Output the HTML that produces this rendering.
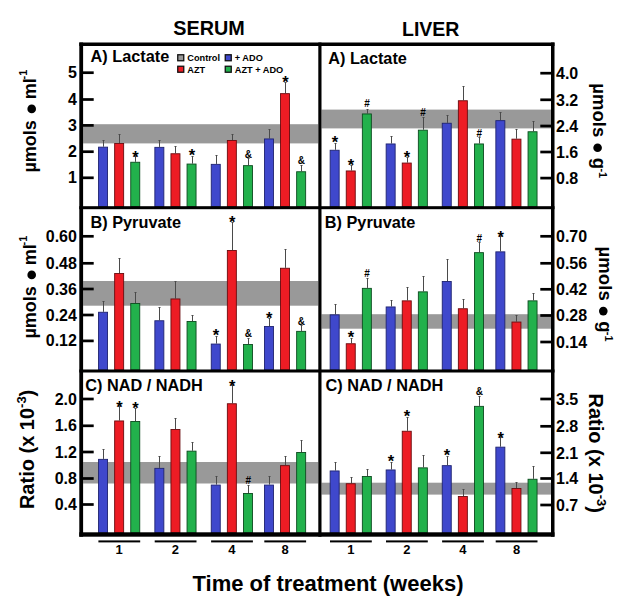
<!DOCTYPE html><html><head><meta charset="utf-8"><style>html,body{margin:0;padding:0;background:#fff;width:626px;height:604px;overflow:hidden}svg{display:block}text{font-family:"Liberation Sans",sans-serif}</style></head><body>
<svg width="626" height="604" viewBox="0 0 626 604">
<rect x="0" y="0" width="626" height="604" fill="#fff"/>
<rect x="83.1" y="124.2" width="235.20000000000002" height="19.2" fill="#999999"/>
<line x1="103.50" y1="146.7" x2="103.50" y2="140.8" stroke="#4a4a4a" stroke-width="1"/>
<line x1="102.50" y1="140.5" x2="104.50" y2="140.5" stroke="#4a4a4a" stroke-width="1"/>
<rect x="98.55" y="147.15" width="9.00" height="59.50" fill="#3f48cc" stroke="#1e2370" stroke-width="0.9"/>
<line x1="119.50" y1="143.0" x2="119.50" y2="134.2" stroke="#4a4a4a" stroke-width="1"/>
<line x1="118.50" y1="134.5" x2="120.50" y2="134.5" stroke="#4a4a4a" stroke-width="1"/>
<rect x="114.65" y="143.45" width="9.00" height="63.20" fill="#ed1c24" stroke="#6a0a0e" stroke-width="0.9"/>
<line x1="135.50" y1="161.8" x2="135.50" y2="156.7" stroke="#4a4a4a" stroke-width="1"/>
<line x1="134.50" y1="156.5" x2="136.50" y2="156.5" stroke="#4a4a4a" stroke-width="1"/>
<rect x="130.75" y="162.25" width="9.00" height="44.40" fill="#22b14c" stroke="#0c4a1e" stroke-width="0.9"/>
<text x="135.55" y="162.6" font-size="16.5" font-weight="bold" text-anchor="middle" fill="#000">*</text>
<line x1="159.50" y1="146.9" x2="159.50" y2="140.0" stroke="#4a4a4a" stroke-width="1"/>
<line x1="158.50" y1="140.5" x2="160.50" y2="140.5" stroke="#4a4a4a" stroke-width="1"/>
<rect x="154.85" y="147.35" width="9.00" height="59.30" fill="#3f48cc" stroke="#1e2370" stroke-width="0.9"/>
<line x1="175.50" y1="153.3" x2="175.50" y2="146.7" stroke="#4a4a4a" stroke-width="1"/>
<line x1="174.50" y1="146.5" x2="176.50" y2="146.5" stroke="#4a4a4a" stroke-width="1"/>
<rect x="170.95" y="153.75" width="9.00" height="52.90" fill="#ed1c24" stroke="#6a0a0e" stroke-width="0.9"/>
<line x1="192.50" y1="163.6" x2="192.50" y2="156.0" stroke="#4a4a4a" stroke-width="1"/>
<line x1="191.50" y1="156.5" x2="193.50" y2="156.5" stroke="#4a4a4a" stroke-width="1"/>
<rect x="187.05" y="164.05" width="9.00" height="42.60" fill="#22b14c" stroke="#0c4a1e" stroke-width="0.9"/>
<text x="191.85" y="161.3" font-size="16.5" font-weight="bold" text-anchor="middle" fill="#000">*</text>
<line x1="216.50" y1="163.9" x2="216.50" y2="155.4" stroke="#4a4a4a" stroke-width="1"/>
<line x1="215.50" y1="155.5" x2="217.50" y2="155.5" stroke="#4a4a4a" stroke-width="1"/>
<rect x="211.25" y="164.35" width="9.00" height="42.30" fill="#3f48cc" stroke="#1e2370" stroke-width="0.9"/>
<line x1="232.50" y1="140.0" x2="232.50" y2="134.0" stroke="#4a4a4a" stroke-width="1"/>
<line x1="231.50" y1="134.5" x2="233.50" y2="134.5" stroke="#4a4a4a" stroke-width="1"/>
<rect x="227.35" y="140.45" width="9.00" height="66.20" fill="#ed1c24" stroke="#6a0a0e" stroke-width="0.9"/>
<line x1="248.50" y1="165.2" x2="248.50" y2="158.6" stroke="#4a4a4a" stroke-width="1"/>
<line x1="247.50" y1="158.5" x2="249.50" y2="158.5" stroke="#4a4a4a" stroke-width="1"/>
<rect x="243.45" y="165.65" width="9.00" height="41.00" fill="#22b14c" stroke="#0c4a1e" stroke-width="0.9"/>
<text x="248.25" y="158.4" font-size="10" text-anchor="middle" font-weight="bold" fill="#000">&amp;</text>
<line x1="269.50" y1="138.5" x2="269.50" y2="129.7" stroke="#4a4a4a" stroke-width="1"/>
<line x1="268.50" y1="129.5" x2="270.50" y2="129.5" stroke="#4a4a4a" stroke-width="1"/>
<rect x="264.45" y="138.95" width="9.00" height="67.70" fill="#3f48cc" stroke="#1e2370" stroke-width="0.9"/>
<line x1="285.50" y1="93.2" x2="285.50" y2="82.6" stroke="#4a4a4a" stroke-width="1"/>
<line x1="284.50" y1="82.5" x2="286.50" y2="82.5" stroke="#4a4a4a" stroke-width="1"/>
<rect x="280.55" y="93.65" width="9.00" height="113.00" fill="#ed1c24" stroke="#6a0a0e" stroke-width="0.9"/>
<text x="285.35" y="88.3" font-size="16.5" font-weight="bold" text-anchor="middle" fill="#000">*</text>
<line x1="301.50" y1="171.3" x2="301.50" y2="165.2" stroke="#4a4a4a" stroke-width="1"/>
<line x1="300.50" y1="165.5" x2="302.50" y2="165.5" stroke="#4a4a4a" stroke-width="1"/>
<rect x="296.65" y="171.75" width="9.00" height="34.90" fill="#22b14c" stroke="#0c4a1e" stroke-width="0.9"/>
<text x="301.45" y="163.7" font-size="10" text-anchor="middle" font-weight="bold" fill="#000">&amp;</text>
<rect x="321.5" y="109.6" width="229.5" height="18.8" fill="#999999"/>
<line x1="335.50" y1="149.8" x2="335.50" y2="143.2" stroke="#4a4a4a" stroke-width="1"/>
<line x1="334.50" y1="143.5" x2="336.50" y2="143.5" stroke="#4a4a4a" stroke-width="1"/>
<rect x="330.15" y="150.25" width="9.00" height="56.40" fill="#3f48cc" stroke="#1e2370" stroke-width="0.9"/>
<text x="334.95" y="148.0" font-size="16.5" font-weight="bold" text-anchor="middle" fill="#000">*</text>
<line x1="351.50" y1="170.5" x2="351.50" y2="165.2" stroke="#4a4a4a" stroke-width="1"/>
<line x1="350.50" y1="165.5" x2="352.50" y2="165.5" stroke="#4a4a4a" stroke-width="1"/>
<rect x="346.25" y="170.95" width="9.00" height="35.70" fill="#ed1c24" stroke="#6a0a0e" stroke-width="0.9"/>
<text x="351.05" y="171.1" font-size="16.5" font-weight="bold" text-anchor="middle" fill="#000">*</text>
<line x1="367.50" y1="113.5" x2="367.50" y2="109.6" stroke="#4a4a4a" stroke-width="1"/>
<line x1="366.50" y1="109.5" x2="368.50" y2="109.5" stroke="#4a4a4a" stroke-width="1"/>
<rect x="362.35" y="113.95" width="9.00" height="92.70" fill="#22b14c" stroke="#0c4a1e" stroke-width="0.9"/>
<text x="367.15" y="107.3" font-size="10" font-weight="bold" text-anchor="middle" fill="#000">#</text>
<line x1="391.50" y1="143.5" x2="391.50" y2="136.0" stroke="#4a4a4a" stroke-width="1"/>
<line x1="390.50" y1="136.5" x2="392.50" y2="136.5" stroke="#4a4a4a" stroke-width="1"/>
<rect x="386.15" y="143.95" width="9.00" height="62.70" fill="#3f48cc" stroke="#1e2370" stroke-width="0.9"/>
<line x1="407.50" y1="162.6" x2="407.50" y2="157.3" stroke="#4a4a4a" stroke-width="1"/>
<line x1="406.50" y1="157.5" x2="408.50" y2="157.5" stroke="#4a4a4a" stroke-width="1"/>
<rect x="402.25" y="163.05" width="9.00" height="43.60" fill="#ed1c24" stroke="#6a0a0e" stroke-width="0.9"/>
<text x="407.05" y="162.6" font-size="16.5" font-weight="bold" text-anchor="middle" fill="#000">*</text>
<line x1="423.50" y1="129.7" x2="423.50" y2="117.5" stroke="#4a4a4a" stroke-width="1"/>
<line x1="422.50" y1="117.5" x2="424.50" y2="117.5" stroke="#4a4a4a" stroke-width="1"/>
<rect x="418.35" y="130.15" width="9.00" height="76.50" fill="#22b14c" stroke="#0c4a1e" stroke-width="0.9"/>
<text x="423.15" y="115.6" font-size="10" font-weight="bold" text-anchor="middle" fill="#000">#</text>
<line x1="447.50" y1="122.8" x2="447.50" y2="115.4" stroke="#4a4a4a" stroke-width="1"/>
<line x1="446.50" y1="115.5" x2="448.50" y2="115.5" stroke="#4a4a4a" stroke-width="1"/>
<rect x="442.25" y="123.25" width="9.00" height="83.40" fill="#3f48cc" stroke="#1e2370" stroke-width="0.9"/>
<line x1="463.50" y1="100.3" x2="463.50" y2="86.3" stroke="#4a4a4a" stroke-width="1"/>
<line x1="462.50" y1="86.5" x2="464.50" y2="86.5" stroke="#4a4a4a" stroke-width="1"/>
<rect x="458.35" y="100.75" width="9.00" height="105.90" fill="#ed1c24" stroke="#6a0a0e" stroke-width="0.9"/>
<line x1="479.50" y1="143.5" x2="479.50" y2="137.4" stroke="#4a4a4a" stroke-width="1"/>
<line x1="478.50" y1="137.5" x2="480.50" y2="137.5" stroke="#4a4a4a" stroke-width="1"/>
<rect x="474.45" y="143.95" width="9.00" height="62.70" fill="#22b14c" stroke="#0c4a1e" stroke-width="0.9"/>
<text x="479.25" y="136.9" font-size="10" font-weight="bold" text-anchor="middle" fill="#000">#</text>
<line x1="500.50" y1="120.2" x2="500.50" y2="112.8" stroke="#4a4a4a" stroke-width="1"/>
<line x1="499.50" y1="112.5" x2="501.50" y2="112.5" stroke="#4a4a4a" stroke-width="1"/>
<rect x="495.85" y="120.65" width="9.00" height="86.00" fill="#3f48cc" stroke="#1e2370" stroke-width="0.9"/>
<line x1="516.50" y1="138.7" x2="516.50" y2="129.4" stroke="#4a4a4a" stroke-width="1"/>
<line x1="515.50" y1="129.5" x2="517.50" y2="129.5" stroke="#4a4a4a" stroke-width="1"/>
<rect x="511.95" y="139.15" width="9.00" height="67.50" fill="#ed1c24" stroke="#6a0a0e" stroke-width="0.9"/>
<line x1="533.50" y1="131.3" x2="533.50" y2="121.0" stroke="#4a4a4a" stroke-width="1"/>
<line x1="532.50" y1="121.5" x2="534.50" y2="121.5" stroke="#4a4a4a" stroke-width="1"/>
<rect x="528.05" y="131.75" width="9.00" height="74.90" fill="#22b14c" stroke="#0c4a1e" stroke-width="0.9"/>
<rect x="83.1" y="281.0" width="235.20000000000002" height="24.7" fill="#999999"/>
<line x1="103.50" y1="311.8" x2="103.50" y2="301.2" stroke="#4a4a4a" stroke-width="1"/>
<line x1="102.50" y1="301.5" x2="104.50" y2="301.5" stroke="#4a4a4a" stroke-width="1"/>
<rect x="98.55" y="312.25" width="9.00" height="57.70" fill="#3f48cc" stroke="#1e2370" stroke-width="0.9"/>
<line x1="119.50" y1="273.1" x2="119.50" y2="258.8" stroke="#4a4a4a" stroke-width="1"/>
<line x1="118.50" y1="258.5" x2="120.50" y2="258.5" stroke="#4a4a4a" stroke-width="1"/>
<rect x="114.65" y="273.55" width="9.00" height="96.40" fill="#ed1c24" stroke="#6a0a0e" stroke-width="0.9"/>
<line x1="135.50" y1="303.0" x2="135.50" y2="292.4" stroke="#4a4a4a" stroke-width="1"/>
<line x1="134.50" y1="292.5" x2="136.50" y2="292.5" stroke="#4a4a4a" stroke-width="1"/>
<rect x="130.75" y="303.45" width="9.00" height="66.50" fill="#22b14c" stroke="#0c4a1e" stroke-width="0.9"/>
<line x1="159.50" y1="320.3" x2="159.50" y2="307.2" stroke="#4a4a4a" stroke-width="1"/>
<line x1="158.50" y1="307.5" x2="160.50" y2="307.5" stroke="#4a4a4a" stroke-width="1"/>
<rect x="154.85" y="320.75" width="9.00" height="49.20" fill="#3f48cc" stroke="#1e2370" stroke-width="0.9"/>
<line x1="175.50" y1="298.5" x2="175.50" y2="281.0" stroke="#4a4a4a" stroke-width="1"/>
<line x1="174.50" y1="281.5" x2="176.50" y2="281.5" stroke="#4a4a4a" stroke-width="1"/>
<rect x="170.95" y="298.95" width="9.00" height="71.00" fill="#ed1c24" stroke="#6a0a0e" stroke-width="0.9"/>
<line x1="192.50" y1="321.0" x2="192.50" y2="315.0" stroke="#4a4a4a" stroke-width="1"/>
<line x1="191.50" y1="315.5" x2="193.50" y2="315.5" stroke="#4a4a4a" stroke-width="1"/>
<rect x="187.05" y="321.45" width="9.00" height="48.50" fill="#22b14c" stroke="#0c4a1e" stroke-width="0.9"/>
<line x1="216.50" y1="343.6" x2="216.50" y2="336.2" stroke="#4a4a4a" stroke-width="1"/>
<line x1="215.50" y1="336.5" x2="217.50" y2="336.5" stroke="#4a4a4a" stroke-width="1"/>
<rect x="211.25" y="344.05" width="9.00" height="25.90" fill="#3f48cc" stroke="#1e2370" stroke-width="0.9"/>
<text x="216.05" y="341.3" font-size="16.5" font-weight="bold" text-anchor="middle" fill="#000">*</text>
<line x1="232.50" y1="250.0" x2="232.50" y2="222.2" stroke="#4a4a4a" stroke-width="1"/>
<line x1="231.50" y1="222.5" x2="233.50" y2="222.5" stroke="#4a4a4a" stroke-width="1"/>
<rect x="227.35" y="250.45" width="9.00" height="119.50" fill="#ed1c24" stroke="#6a0a0e" stroke-width="0.9"/>
<text x="232.15" y="227.6" font-size="16.5" font-weight="bold" text-anchor="middle" fill="#000">*</text>
<line x1="248.50" y1="344.1" x2="248.50" y2="338.8" stroke="#4a4a4a" stroke-width="1"/>
<line x1="247.50" y1="338.5" x2="249.50" y2="338.5" stroke="#4a4a4a" stroke-width="1"/>
<rect x="243.45" y="344.55" width="9.00" height="25.40" fill="#22b14c" stroke="#0c4a1e" stroke-width="0.9"/>
<text x="248.25" y="337.4" font-size="10" text-anchor="middle" font-weight="bold" fill="#000">&amp;</text>
<line x1="269.50" y1="326.1" x2="269.50" y2="318.1" stroke="#4a4a4a" stroke-width="1"/>
<line x1="268.50" y1="318.5" x2="270.50" y2="318.5" stroke="#4a4a4a" stroke-width="1"/>
<rect x="264.45" y="326.55" width="9.00" height="43.40" fill="#3f48cc" stroke="#1e2370" stroke-width="0.9"/>
<text x="269.25" y="323.7" font-size="16.5" font-weight="bold" text-anchor="middle" fill="#000">*</text>
<line x1="285.50" y1="267.8" x2="285.50" y2="249.3" stroke="#4a4a4a" stroke-width="1"/>
<line x1="284.50" y1="249.5" x2="286.50" y2="249.5" stroke="#4a4a4a" stroke-width="1"/>
<rect x="280.55" y="268.25" width="9.00" height="101.70" fill="#ed1c24" stroke="#6a0a0e" stroke-width="0.9"/>
<line x1="301.50" y1="330.9" x2="301.50" y2="325.6" stroke="#4a4a4a" stroke-width="1"/>
<line x1="300.50" y1="325.5" x2="302.50" y2="325.5" stroke="#4a4a4a" stroke-width="1"/>
<rect x="296.65" y="331.35" width="9.00" height="38.60" fill="#22b14c" stroke="#0c4a1e" stroke-width="0.9"/>
<text x="301.45" y="325.0" font-size="10" text-anchor="middle" font-weight="bold" fill="#000">&amp;</text>
<rect x="321.5" y="314.2" width="229.5" height="14.5" fill="#999999"/>
<line x1="335.50" y1="314.4" x2="335.50" y2="304.9" stroke="#4a4a4a" stroke-width="1"/>
<line x1="334.50" y1="304.5" x2="336.50" y2="304.5" stroke="#4a4a4a" stroke-width="1"/>
<rect x="330.15" y="314.85" width="9.00" height="55.10" fill="#3f48cc" stroke="#1e2370" stroke-width="0.9"/>
<line x1="351.50" y1="343.3" x2="351.50" y2="338.0" stroke="#4a4a4a" stroke-width="1"/>
<line x1="350.50" y1="338.5" x2="352.50" y2="338.5" stroke="#4a4a4a" stroke-width="1"/>
<rect x="346.25" y="343.75" width="9.00" height="26.20" fill="#ed1c24" stroke="#6a0a0e" stroke-width="0.9"/>
<text x="351.05" y="342.8" font-size="16.5" font-weight="bold" text-anchor="middle" fill="#000">*</text>
<line x1="367.50" y1="287.9" x2="367.50" y2="278.4" stroke="#4a4a4a" stroke-width="1"/>
<line x1="366.50" y1="278.5" x2="368.50" y2="278.5" stroke="#4a4a4a" stroke-width="1"/>
<rect x="362.35" y="288.35" width="9.00" height="81.60" fill="#22b14c" stroke="#0c4a1e" stroke-width="0.9"/>
<text x="367.15" y="276.9" font-size="10" font-weight="bold" text-anchor="middle" fill="#000">#</text>
<line x1="391.50" y1="306.5" x2="391.50" y2="300.4" stroke="#4a4a4a" stroke-width="1"/>
<line x1="390.50" y1="300.5" x2="392.50" y2="300.5" stroke="#4a4a4a" stroke-width="1"/>
<rect x="386.15" y="306.95" width="9.00" height="63.00" fill="#3f48cc" stroke="#1e2370" stroke-width="0.9"/>
<line x1="407.50" y1="300.4" x2="407.50" y2="287.9" stroke="#4a4a4a" stroke-width="1"/>
<line x1="406.50" y1="287.5" x2="408.50" y2="287.5" stroke="#4a4a4a" stroke-width="1"/>
<rect x="402.25" y="300.85" width="9.00" height="69.10" fill="#ed1c24" stroke="#6a0a0e" stroke-width="0.9"/>
<line x1="423.50" y1="291.4" x2="423.50" y2="276.0" stroke="#4a4a4a" stroke-width="1"/>
<line x1="422.50" y1="276.5" x2="424.50" y2="276.5" stroke="#4a4a4a" stroke-width="1"/>
<rect x="418.35" y="291.85" width="9.00" height="78.10" fill="#22b14c" stroke="#0c4a1e" stroke-width="0.9"/>
<line x1="447.50" y1="281.0" x2="447.50" y2="259.9" stroke="#4a4a4a" stroke-width="1"/>
<line x1="446.50" y1="259.5" x2="448.50" y2="259.5" stroke="#4a4a4a" stroke-width="1"/>
<rect x="442.25" y="281.45" width="9.00" height="88.50" fill="#3f48cc" stroke="#1e2370" stroke-width="0.9"/>
<line x1="463.50" y1="308.3" x2="463.50" y2="299.0" stroke="#4a4a4a" stroke-width="1"/>
<line x1="462.50" y1="299.5" x2="464.50" y2="299.5" stroke="#4a4a4a" stroke-width="1"/>
<rect x="458.35" y="308.75" width="9.00" height="61.20" fill="#ed1c24" stroke="#6a0a0e" stroke-width="0.9"/>
<line x1="479.50" y1="252.2" x2="479.50" y2="242.1" stroke="#4a4a4a" stroke-width="1"/>
<line x1="478.50" y1="242.5" x2="480.50" y2="242.5" stroke="#4a4a4a" stroke-width="1"/>
<rect x="474.45" y="252.65" width="9.00" height="117.30" fill="#22b14c" stroke="#0c4a1e" stroke-width="0.9"/>
<text x="479.25" y="241.9" font-size="10" font-weight="bold" text-anchor="middle" fill="#000">#</text>
<line x1="500.50" y1="251.4" x2="500.50" y2="236.8" stroke="#4a4a4a" stroke-width="1"/>
<line x1="499.50" y1="236.5" x2="501.50" y2="236.5" stroke="#4a4a4a" stroke-width="1"/>
<rect x="495.85" y="251.85" width="9.00" height="118.10" fill="#3f48cc" stroke="#1e2370" stroke-width="0.9"/>
<text x="500.65" y="242.7" font-size="16.5" font-weight="bold" text-anchor="middle" fill="#000">*</text>
<line x1="516.50" y1="321.6" x2="516.50" y2="315.0" stroke="#4a4a4a" stroke-width="1"/>
<line x1="515.50" y1="315.5" x2="517.50" y2="315.5" stroke="#4a4a4a" stroke-width="1"/>
<rect x="511.95" y="322.05" width="9.00" height="47.90" fill="#ed1c24" stroke="#6a0a0e" stroke-width="0.9"/>
<line x1="533.50" y1="300.4" x2="533.50" y2="293.2" stroke="#4a4a4a" stroke-width="1"/>
<line x1="532.50" y1="293.5" x2="534.50" y2="293.5" stroke="#4a4a4a" stroke-width="1"/>
<rect x="528.05" y="300.85" width="9.00" height="69.10" fill="#22b14c" stroke="#0c4a1e" stroke-width="0.9"/>
<rect x="83.1" y="462.0" width="235.20000000000002" height="21.5" fill="#999999"/>
<line x1="103.50" y1="458.9" x2="103.50" y2="449.4" stroke="#4a4a4a" stroke-width="1"/>
<line x1="102.50" y1="449.5" x2="104.50" y2="449.5" stroke="#4a4a4a" stroke-width="1"/>
<rect x="98.55" y="459.35" width="9.00" height="73.40" fill="#3f48cc" stroke="#1e2370" stroke-width="0.9"/>
<line x1="119.50" y1="420.5" x2="119.50" y2="406.4" stroke="#4a4a4a" stroke-width="1"/>
<line x1="118.50" y1="406.5" x2="120.50" y2="406.5" stroke="#4a4a4a" stroke-width="1"/>
<rect x="114.65" y="420.95" width="9.00" height="111.80" fill="#ed1c24" stroke="#6a0a0e" stroke-width="0.9"/>
<text x="119.45" y="412.6" font-size="16.5" font-weight="bold" text-anchor="middle" fill="#000">*</text>
<line x1="135.50" y1="421.0" x2="135.50" y2="408.6" stroke="#4a4a4a" stroke-width="1"/>
<line x1="134.50" y1="408.5" x2="136.50" y2="408.5" stroke="#4a4a4a" stroke-width="1"/>
<rect x="130.75" y="421.45" width="9.00" height="111.30" fill="#22b14c" stroke="#0c4a1e" stroke-width="0.9"/>
<text x="135.55" y="413.9" font-size="16.5" font-weight="bold" text-anchor="middle" fill="#000">*</text>
<line x1="159.50" y1="467.9" x2="159.50" y2="456.2" stroke="#4a4a4a" stroke-width="1"/>
<line x1="158.50" y1="456.5" x2="160.50" y2="456.5" stroke="#4a4a4a" stroke-width="1"/>
<rect x="154.85" y="468.35" width="9.00" height="64.40" fill="#3f48cc" stroke="#1e2370" stroke-width="0.9"/>
<line x1="175.50" y1="429.0" x2="175.50" y2="418.4" stroke="#4a4a4a" stroke-width="1"/>
<line x1="174.50" y1="418.5" x2="176.50" y2="418.5" stroke="#4a4a4a" stroke-width="1"/>
<rect x="170.95" y="429.45" width="9.00" height="103.30" fill="#ed1c24" stroke="#6a0a0e" stroke-width="0.9"/>
<line x1="192.50" y1="450.7" x2="192.50" y2="442.2" stroke="#4a4a4a" stroke-width="1"/>
<line x1="191.50" y1="442.5" x2="193.50" y2="442.5" stroke="#4a4a4a" stroke-width="1"/>
<rect x="187.05" y="451.15" width="9.00" height="81.60" fill="#22b14c" stroke="#0c4a1e" stroke-width="0.9"/>
<line x1="216.50" y1="484.6" x2="216.50" y2="476.1" stroke="#4a4a4a" stroke-width="1"/>
<line x1="215.50" y1="476.5" x2="217.50" y2="476.5" stroke="#4a4a4a" stroke-width="1"/>
<rect x="211.25" y="485.05" width="9.00" height="47.70" fill="#3f48cc" stroke="#1e2370" stroke-width="0.9"/>
<line x1="232.50" y1="403.3" x2="232.50" y2="385.8" stroke="#4a4a4a" stroke-width="1"/>
<line x1="231.50" y1="385.5" x2="233.50" y2="385.5" stroke="#4a4a4a" stroke-width="1"/>
<rect x="227.35" y="403.75" width="9.00" height="129.00" fill="#ed1c24" stroke="#6a0a0e" stroke-width="0.9"/>
<text x="232.15" y="391.9" font-size="16.5" font-weight="bold" text-anchor="middle" fill="#000">*</text>
<line x1="248.50" y1="493.0" x2="248.50" y2="485.9" stroke="#4a4a4a" stroke-width="1"/>
<line x1="247.50" y1="485.5" x2="249.50" y2="485.5" stroke="#4a4a4a" stroke-width="1"/>
<rect x="243.45" y="493.45" width="9.00" height="39.30" fill="#22b14c" stroke="#0c4a1e" stroke-width="0.9"/>
<text x="248.25" y="483.6" font-size="10" font-weight="bold" text-anchor="middle" fill="#000">#</text>
<line x1="269.50" y1="484.6" x2="269.50" y2="476.1" stroke="#4a4a4a" stroke-width="1"/>
<line x1="268.50" y1="476.5" x2="270.50" y2="476.5" stroke="#4a4a4a" stroke-width="1"/>
<rect x="264.45" y="485.05" width="9.00" height="47.70" fill="#3f48cc" stroke="#1e2370" stroke-width="0.9"/>
<line x1="285.50" y1="465.2" x2="285.50" y2="456.2" stroke="#4a4a4a" stroke-width="1"/>
<line x1="284.50" y1="456.5" x2="286.50" y2="456.5" stroke="#4a4a4a" stroke-width="1"/>
<rect x="280.55" y="465.65" width="9.00" height="67.10" fill="#ed1c24" stroke="#6a0a0e" stroke-width="0.9"/>
<line x1="301.50" y1="452.0" x2="301.50" y2="440.9" stroke="#4a4a4a" stroke-width="1"/>
<line x1="300.50" y1="440.5" x2="302.50" y2="440.5" stroke="#4a4a4a" stroke-width="1"/>
<rect x="296.65" y="452.45" width="9.00" height="80.30" fill="#22b14c" stroke="#0c4a1e" stroke-width="0.9"/>
<rect x="321.5" y="482.7" width="229.5" height="11.9" fill="#999999"/>
<line x1="335.50" y1="470.5" x2="335.50" y2="462.6" stroke="#4a4a4a" stroke-width="1"/>
<line x1="334.50" y1="462.5" x2="336.50" y2="462.5" stroke="#4a4a4a" stroke-width="1"/>
<rect x="330.15" y="470.95" width="9.00" height="61.80" fill="#3f48cc" stroke="#1e2370" stroke-width="0.9"/>
<line x1="351.50" y1="483.3" x2="351.50" y2="477.2" stroke="#4a4a4a" stroke-width="1"/>
<line x1="350.50" y1="477.5" x2="352.50" y2="477.5" stroke="#4a4a4a" stroke-width="1"/>
<rect x="346.25" y="483.75" width="9.00" height="49.00" fill="#ed1c24" stroke="#6a0a0e" stroke-width="0.9"/>
<line x1="367.50" y1="476.1" x2="367.50" y2="469.2" stroke="#4a4a4a" stroke-width="1"/>
<line x1="366.50" y1="469.5" x2="368.50" y2="469.5" stroke="#4a4a4a" stroke-width="1"/>
<rect x="362.35" y="476.55" width="9.00" height="56.20" fill="#22b14c" stroke="#0c4a1e" stroke-width="0.9"/>
<line x1="391.50" y1="469.5" x2="391.50" y2="462.6" stroke="#4a4a4a" stroke-width="1"/>
<line x1="390.50" y1="462.5" x2="392.50" y2="462.5" stroke="#4a4a4a" stroke-width="1"/>
<rect x="386.15" y="469.95" width="9.00" height="62.80" fill="#3f48cc" stroke="#1e2370" stroke-width="0.9"/>
<text x="390.95" y="467.3" font-size="16.5" font-weight="bold" text-anchor="middle" fill="#000">*</text>
<line x1="407.50" y1="430.8" x2="407.50" y2="417.6" stroke="#4a4a4a" stroke-width="1"/>
<line x1="406.50" y1="417.5" x2="408.50" y2="417.5" stroke="#4a4a4a" stroke-width="1"/>
<rect x="402.25" y="431.25" width="9.00" height="101.50" fill="#ed1c24" stroke="#6a0a0e" stroke-width="0.9"/>
<text x="407.05" y="422.3" font-size="16.5" font-weight="bold" text-anchor="middle" fill="#000">*</text>
<line x1="423.50" y1="467.4" x2="423.50" y2="455.4" stroke="#4a4a4a" stroke-width="1"/>
<line x1="422.50" y1="455.5" x2="424.50" y2="455.5" stroke="#4a4a4a" stroke-width="1"/>
<rect x="418.35" y="467.85" width="9.00" height="64.90" fill="#22b14c" stroke="#0c4a1e" stroke-width="0.9"/>
<line x1="447.50" y1="465.2" x2="447.50" y2="456.2" stroke="#4a4a4a" stroke-width="1"/>
<line x1="446.50" y1="456.5" x2="448.50" y2="456.5" stroke="#4a4a4a" stroke-width="1"/>
<rect x="442.25" y="465.65" width="9.00" height="67.10" fill="#3f48cc" stroke="#1e2370" stroke-width="0.9"/>
<text x="447.05" y="461.3" font-size="16.5" font-weight="bold" text-anchor="middle" fill="#000">*</text>
<line x1="463.50" y1="496.0" x2="463.50" y2="489.9" stroke="#4a4a4a" stroke-width="1"/>
<line x1="462.50" y1="489.5" x2="464.50" y2="489.5" stroke="#4a4a4a" stroke-width="1"/>
<rect x="458.35" y="496.45" width="9.00" height="36.30" fill="#ed1c24" stroke="#6a0a0e" stroke-width="0.9"/>
<line x1="479.50" y1="405.9" x2="479.50" y2="396.4" stroke="#4a4a4a" stroke-width="1"/>
<line x1="478.50" y1="396.5" x2="480.50" y2="396.5" stroke="#4a4a4a" stroke-width="1"/>
<rect x="474.45" y="406.35" width="9.00" height="126.40" fill="#22b14c" stroke="#0c4a1e" stroke-width="0.9"/>
<text x="479.25" y="395.3" font-size="10" text-anchor="middle" font-weight="bold" fill="#000">&amp;</text>
<line x1="500.50" y1="446.7" x2="500.50" y2="437.7" stroke="#4a4a4a" stroke-width="1"/>
<line x1="499.50" y1="437.5" x2="501.50" y2="437.5" stroke="#4a4a4a" stroke-width="1"/>
<rect x="495.85" y="447.15" width="9.00" height="85.60" fill="#3f48cc" stroke="#1e2370" stroke-width="0.9"/>
<text x="500.65" y="443.6" font-size="16.5" font-weight="bold" text-anchor="middle" fill="#000">*</text>
<line x1="516.50" y1="488.0" x2="516.50" y2="482.0" stroke="#4a4a4a" stroke-width="1"/>
<line x1="515.50" y1="482.5" x2="517.50" y2="482.5" stroke="#4a4a4a" stroke-width="1"/>
<rect x="511.95" y="488.45" width="9.00" height="44.30" fill="#ed1c24" stroke="#6a0a0e" stroke-width="0.9"/>
<line x1="533.50" y1="478.8" x2="533.50" y2="466.0" stroke="#4a4a4a" stroke-width="1"/>
<line x1="532.50" y1="466.5" x2="534.50" y2="466.5" stroke="#4a4a4a" stroke-width="1"/>
<rect x="528.05" y="479.25" width="9.00" height="53.50" fill="#22b14c" stroke="#0c4a1e" stroke-width="0.9"/>
<rect x="79.3" y="42.5" width="3.8" height="494.2" fill="#000"/>
<rect x="79.3" y="42.5" width="475.2" height="3.5" fill="#000"/>
<rect x="551.0" y="42.5" width="3.5" height="494.2" fill="#000"/>
<rect x="79.3" y="532.3" width="475.2" height="4.4" fill="#000"/>
<rect x="318.3" y="42.5" width="3.2" height="494.2" fill="#000"/>
<rect x="79.3" y="206.2" width="475.2" height="3.0" fill="#000"/>
<rect x="79.3" y="369.5" width="475.2" height="3.0" fill="#000"/>
<rect x="83" y="71.35" width="10.7" height="2.7" fill="#000"/>
<text x="76.9" y="78.2" font-size="16" font-weight="bold" text-anchor="end" fill="#000">5</text>
<rect x="540.3" y="71.85" width="11" height="2.7" fill="#000"/>
<text x="556" y="79.1" font-size="16" font-weight="bold" fill="#000">4.0</text>
<rect x="83" y="98.15" width="10.7" height="2.7" fill="#000"/>
<text x="76.9" y="105.0" font-size="16" font-weight="bold" text-anchor="end" fill="#000">4</text>
<rect x="540.3" y="98.45" width="11" height="2.7" fill="#000"/>
<text x="556" y="105.7" font-size="16" font-weight="bold" fill="#000">3.2</text>
<rect x="83" y="124.05" width="10.7" height="2.7" fill="#000"/>
<text x="76.9" y="130.9" font-size="16" font-weight="bold" text-anchor="end" fill="#000">3</text>
<rect x="540.3" y="124.65" width="11" height="2.7" fill="#000"/>
<text x="556" y="131.9" font-size="16" font-weight="bold" fill="#000">2.4</text>
<rect x="83" y="150.35" width="10.7" height="2.7" fill="#000"/>
<text x="76.9" y="157.2" font-size="16" font-weight="bold" text-anchor="end" fill="#000">2</text>
<rect x="540.3" y="150.65" width="11" height="2.7" fill="#000"/>
<text x="556" y="157.9" font-size="16" font-weight="bold" fill="#000">1.6</text>
<rect x="83" y="176.45" width="10.7" height="2.7" fill="#000"/>
<text x="76.9" y="183.3" font-size="16" font-weight="bold" text-anchor="end" fill="#000">1</text>
<rect x="540.3" y="176.75" width="11" height="2.7" fill="#000"/>
<text x="556" y="184.0" font-size="16" font-weight="bold" fill="#000">0.8</text>
<rect x="83" y="234.95" width="10.7" height="2.7" fill="#000"/>
<text x="76.9" y="241.8" font-size="16" font-weight="bold" text-anchor="end" fill="#000">0.60</text>
<rect x="540.3" y="234.95" width="11" height="2.7" fill="#000"/>
<text x="556" y="242.2" font-size="16" font-weight="bold" fill="#000">0.70</text>
<rect x="83" y="261.95" width="10.7" height="2.7" fill="#000"/>
<text x="76.9" y="268.8" font-size="16" font-weight="bold" text-anchor="end" fill="#000">0.48</text>
<rect x="540.3" y="261.95" width="11" height="2.7" fill="#000"/>
<text x="556" y="269.2" font-size="16" font-weight="bold" fill="#000">0.56</text>
<rect x="83" y="287.65" width="10.7" height="2.7" fill="#000"/>
<text x="76.9" y="294.5" font-size="16" font-weight="bold" text-anchor="end" fill="#000">0.36</text>
<rect x="540.3" y="287.95" width="11" height="2.7" fill="#000"/>
<text x="556" y="295.2" font-size="16" font-weight="bold" fill="#000">0.42</text>
<rect x="83" y="313.65" width="10.7" height="2.7" fill="#000"/>
<text x="76.9" y="320.5" font-size="16" font-weight="bold" text-anchor="end" fill="#000">0.24</text>
<rect x="540.3" y="314.15" width="11" height="2.7" fill="#000"/>
<text x="556" y="321.4" font-size="16" font-weight="bold" fill="#000">0.28</text>
<rect x="83" y="339.55" width="10.7" height="2.7" fill="#000"/>
<text x="76.9" y="346.4" font-size="16" font-weight="bold" text-anchor="end" fill="#000">0.12</text>
<rect x="540.3" y="340.65" width="11" height="2.7" fill="#000"/>
<text x="556" y="347.9" font-size="16" font-weight="bold" fill="#000">0.14</text>
<rect x="83" y="397.65" width="10.7" height="2.7" fill="#000"/>
<text x="76.9" y="404.5" font-size="16" font-weight="bold" text-anchor="end" fill="#000">2.0</text>
<rect x="540.3" y="397.65" width="11" height="2.7" fill="#000"/>
<text x="556" y="404.9" font-size="16" font-weight="bold" fill="#000">3.5</text>
<rect x="83" y="424.45" width="10.7" height="2.7" fill="#000"/>
<text x="76.9" y="431.3" font-size="16" font-weight="bold" text-anchor="end" fill="#000">1.6</text>
<rect x="540.3" y="424.95" width="11" height="2.7" fill="#000"/>
<text x="556" y="432.2" font-size="16" font-weight="bold" fill="#000">2.8</text>
<rect x="83" y="450.65" width="10.7" height="2.7" fill="#000"/>
<text x="76.9" y="457.5" font-size="16" font-weight="bold" text-anchor="end" fill="#000">1.2</text>
<rect x="540.3" y="451.45" width="11" height="2.7" fill="#000"/>
<text x="556" y="458.7" font-size="16" font-weight="bold" fill="#000">2.1</text>
<rect x="83" y="477.15" width="10.7" height="2.7" fill="#000"/>
<text x="76.9" y="484.0" font-size="16" font-weight="bold" text-anchor="end" fill="#000">0.8</text>
<rect x="540.3" y="477.15" width="11" height="2.7" fill="#000"/>
<text x="556" y="484.4" font-size="16" font-weight="bold" fill="#000">1.4</text>
<rect x="83" y="503.15" width="10.7" height="2.7" fill="#000"/>
<text x="76.9" y="510.0" font-size="16" font-weight="bold" text-anchor="end" fill="#000">0.4</text>
<rect x="540.3" y="503.65" width="11" height="2.7" fill="#000"/>
<text x="556" y="510.9" font-size="16" font-weight="bold" fill="#000">0.7</text>
<text x="90.5" y="61.9" font-size="16.3" font-weight="bold">A) Lactate</text>
<text x="328.2" y="64" font-size="16.3" font-weight="bold">A) Lactate</text>
<text x="90.5" y="227.5" font-size="16.3" font-weight="bold">B) Pyruvate</text>
<text x="324.8" y="228" font-size="16.3" font-weight="bold">B) Pyruvate</text>
<text x="85.2" y="390.5" font-size="16.3" font-weight="bold">C) NAD / NADH</text>
<text x="325.6" y="390.5" font-size="16.3" font-weight="bold">C) NAD / NADH</text>
<rect x="177.75" y="54.75" width="6.0" height="6.0" fill="#999" stroke="#111" stroke-width="1.3"/>
<text x="187.29999999999998" y="61.2" font-size="9.2" font-weight="bold">Control</text>
<rect x="177.75" y="66.25" width="6.0" height="6.0" fill="#ed1c24" stroke="#111" stroke-width="1.3"/>
<text x="187.29999999999998" y="72.69999999999999" font-size="9.2" font-weight="bold">AZT</text>
<rect x="225.25" y="54.75" width="6.0" height="6.0" fill="#3f48cc" stroke="#111" stroke-width="1.3"/>
<text x="234.79999999999998" y="61.2" font-size="9.2" font-weight="bold">+ ADO</text>
<rect x="225.25" y="66.25" width="6.0" height="6.0" fill="#22b14c" stroke="#111" stroke-width="1.3"/>
<text x="234.79999999999998" y="72.69999999999999" font-size="9.2" font-weight="bold">AZT + ADO</text>
<text x="173.3" y="35.2" font-size="19.8" font-weight="bold">SERUM</text>
<text x="402" y="36" font-size="19.5" font-weight="bold">LIVER</text>
<text x="192.5" y="590.5" font-size="22" font-weight="bold">Time of treatment (weeks)</text>
<rect x="98.4" y="540.4" width="41.8" height="2" fill="#000"/>
<text x="119.1" y="554" font-size="13" font-weight="bold" text-anchor="middle">1</text>
<rect x="154.7" y="540.4" width="41.8" height="2" fill="#000"/>
<text x="175.4" y="554" font-size="13" font-weight="bold" text-anchor="middle">2</text>
<rect x="211.1" y="540.4" width="41.8" height="2" fill="#000"/>
<text x="231.8" y="554" font-size="13" font-weight="bold" text-anchor="middle">4</text>
<rect x="264.3" y="540.4" width="41.8" height="2" fill="#000"/>
<text x="285.1" y="554" font-size="13" font-weight="bold" text-anchor="middle">8</text>
<rect x="330.0" y="540.4" width="41.8" height="2" fill="#000"/>
<text x="350.8" y="554" font-size="13" font-weight="bold" text-anchor="middle">1</text>
<rect x="386.0" y="540.4" width="41.8" height="2" fill="#000"/>
<text x="406.8" y="554" font-size="13" font-weight="bold" text-anchor="middle">2</text>
<rect x="442.1" y="540.4" width="41.8" height="2" fill="#000"/>
<text x="462.9" y="554" font-size="13" font-weight="bold" text-anchor="middle">4</text>
<rect x="495.7" y="540.4" width="41.8" height="2" fill="#000"/>
<text x="516.5" y="554" font-size="13" font-weight="bold" text-anchor="middle">8</text>
<g transform="translate(36.4,171.4) rotate(-90)">
<text x="-1.2" y="0" font-size="18" font-weight="bold">&#181;mols</text>
<circle cx="62.5" cy="-4.7" r="4.3" fill="#000"/>
<text x="72.2" y="0" font-size="18" font-weight="bold">ml</text>
<text x="92.0" y="-9" font-size="11" font-weight="bold">-1</text>
</g>
<g transform="translate(36.4,337.4) rotate(-90)">
<text x="-1.2" y="0" font-size="18" font-weight="bold">&#181;mols</text>
<circle cx="62.5" cy="-4.7" r="4.3" fill="#000"/>
<text x="72.2" y="0" font-size="18" font-weight="bold">ml</text>
<text x="92.0" y="-9" font-size="11" font-weight="bold">-1</text>
</g>
<g transform="translate(592.9,84.4) rotate(90)">
<text x="-1.2" y="0" font-size="18.6" font-weight="bold">&#181;mols</text>
<circle cx="63.3" cy="-4.7" r="4.3" fill="#000"/>
<text x="73.4" y="0" font-size="18.6" font-weight="bold">g</text>
<text x="84.0" y="-6" font-size="11" font-weight="bold">-1</text>
</g>
<g transform="translate(598.6,247.8) rotate(90)">
<text x="-1.2" y="0" font-size="18.6" font-weight="bold">&#181;mols</text>
<circle cx="63.3" cy="-4.7" r="4.3" fill="#000"/>
<text x="73.4" y="0" font-size="18.6" font-weight="bold">g</text>
<text x="84.0" y="-6" font-size="11" font-weight="bold">-1</text>
</g>
<g transform="translate(34.2,507.7) rotate(-90)">
<text x="-1.4" y="0" font-size="20" font-weight="bold">Ratio (x 10<tspan font-size="13" dy="-8.5">-3</tspan><tspan dy="8.5">)</tspan></text>
</g>
<g transform="translate(588.9,394.9) rotate(90)">
<text x="-1.4" y="0" font-size="20" font-weight="bold">Ratio (x 10<tspan font-size="13" dy="-8.5">-3</tspan><tspan dy="8.5">)</tspan></text>
</g>
</svg></body></html>
